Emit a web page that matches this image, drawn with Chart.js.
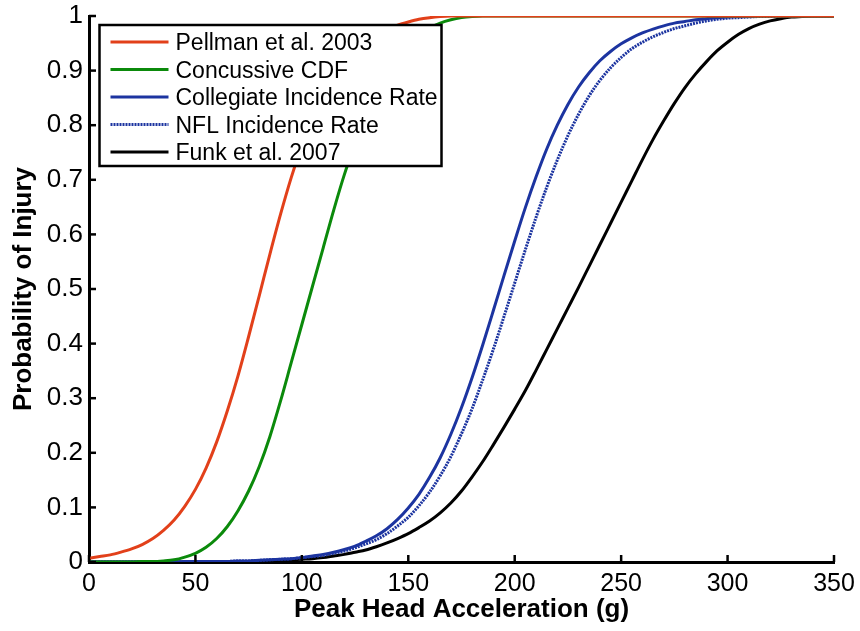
<!DOCTYPE html>
<html>
<head>
<meta charset="utf-8">
<script src="https://cdn.jsdelivr.net/npm/chart.js@4.4.1/dist/chart.umd.min.js"></script>
<style>
html,body{margin:0;padding:0;background:#fff;}
#wrap{width:860px;height:631px;position:relative;}
</style>
</head>
<body>
<div id="wrap"><canvas id="c" width="860" height="631"></canvas></div>
<script>
// ---------- DATA ----------
const accel = [0,5,10,15,20,25,30,35,40,45,50,55,60,65,70,75,80,85,90,95,100,105,110,115,120,125,130,135,140,145,150,155,160,165,170,175,180,185,190,195,200,205,210,215,220,225,230,235,240,245,250,255,260,265,270,275,280,285,290,295,300,305,310,315,320,325,330,335,340,345,350];

const pellman2003 = [0.007,0.010,0.013,0.018,0.024,0.032,0.043,0.058,0.077,0.102,0.133,0.172,0.220,0.277,0.341,0.413,0.488,0.564,0.637,0.704,0.763,0.814,0.855,0.889,0.916,0.937,0.953,0.965,0.975,0.983,0.989,0.994,0.997,0.999,1,1,1,1,1,1,1,1,1,1,1,1,1,1,1,1,1,1,1,1,1,1,1,1,1,1,1,1,1,1,1,1,1,1,1,1,1];

const concussiveCDF = [0,0,0,0,0,0.001,0.001,0.002,0.004,0.009,0.016,0.027,0.043,0.065,0.094,0.130,0.175,0.230,0.295,0.365,0.435,0.505,0.575,0.645,0.710,0.765,0.815,0.860,0.895,0.925,0.948,0.965,0.978,0.987,0.993,0.997,0.999,1,1,1,1,1,1,1,1,1,1,1,1,1,1,1,1,1,1,1,1,1,1,1,1,1,1,1,1,1,1,1,1,1,1];

const collegiateRate = [0,0,0,0,0,0,0,0,0,0.001,0.001,0.001,0.001,0.001,0.002,0.002,0.003,0.004,0.005,0.006,0.008,0.011,0.014,0.018,0.023,0.029,0.038,0.048,0.061,0.078,0.099,0.124,0.155,0.191,0.234,0.283,0.338,0.398,0.461,0.525,0.588,0.649,0.705,0.756,0.800,0.838,0.870,0.896,0.918,0.935,0.949,0.960,0.969,0.976,0.982,0.987,0.990,0.993,0.995,0.997,0.998,0.999,0.999,1,1,1,1,1,1,1,1];

const nflRate = [0,0,0,0,0,0,0,0,0,0,0.001,0.001,0.001,0.001,0.002,0.002,0.003,0.004,0.005,0.006,0.008,0.010,0.012,0.016,0.020,0.026,0.033,0.041,0.052,0.066,0.082,0.103,0.128,0.158,0.193,0.235,0.281,0.334,0.390,0.450,0.511,0.572,0.631,0.686,0.736,0.781,0.820,0.854,0.882,0.905,0.924,0.940,0.952,0.962,0.970,0.977,0.982,0.987,0.991,0.994,0.996,0.997,0.998,0.999,0.999,1,1,1,1,1,1];

const funk2007 = [0,0,0,0,0,0,0,0,0,0,0,0,0.001,0.001,0.001,0.001,0.002,0.002,0.003,0.004,0.005,0.006,0.008,0.011,0.014,0.018,0.022,0.028,0.035,0.043,0.052,0.063,0.075,0.090,0.108,0.130,0.156,0.184,0.215,0.247,0.280,0.314,0.351,0.389,0.427,0.465,0.503,0.542,0.581,0.620,0.659,0.698,0.737,0.774,0.808,0.840,0.869,0.894,0.916,0.936,0.952,0.966,0.977,0.985,0.991,0.995,0.998,0.999,1,1,1];

const seriesNames = ['Pellman et al. 2003','Concussive CDF','Collegiate Incidence Rate','NFL Incidence Rate','Funk et al. 2007'];

const xTickValues = [0,50,100,150,200,250,300,350];
const xTickLabels = ['0','50','100','150','200','250','300','350'];
const yTickValues = [0,0.1,0.2,0.3,0.4,0.5,0.6,0.7,0.8,0.9,1];
const yTickLabels = ['0','0.1','0.2','0.3','0.4','0.5','0.6','0.7','0.8','0.9','1'];

const xTitle = 'Peak Head Acceleration (g)';
const yTitle = 'Probability of Injury';

// ---------- CHART ----------
const FONT = "'Liberation Sans', Arial, Helvetica, sans-serif";
Chart.defaults.font.family = FONT;
Chart.defaults.color = '#000';

const toPts = (ys) => accel.map((x, i) => ({x: x, y: ys[i]}));

const styles = [
  {color: '#e2401a', dash: []},
  {color: '#0b8a0b', dash: []},
  {color: '#1c34a0', dash: []},
  {color: '#1c34a0', dash: [2, 1]},
  {color: '#000000', dash: []}
];
const seriesValues = [pellman2003, concussiveCDF, collegiateRate, nflRate, funk2007];

const datasets = seriesValues.map((vals, i) => ({
  label: seriesNames[i],
  data: toPts(vals),
  borderColor: styles[i].color,
  backgroundColor: styles[i].color,
  borderWidth: 3,
  borderDash: styles[i].dash,
  pointRadius: 0,
  tension: 0.3,
  cubicInterpolationMode: 'monotone',
  fill: false
}));

const inwardTicks = {
  id: 'inwardTicks',
  afterDatasetsDraw(chart) {
    const {ctx, chartArea: a, scales: {x, y}} = chart;
    ctx.save();
    ctx.strokeStyle = '#000';
    ctx.lineWidth = 2.5;
    ctx.setLineDash([]);
    xTickValues.forEach(v => {
      const px = x.getPixelForValue(v);
      ctx.beginPath(); ctx.moveTo(px, a.bottom); ctx.lineTo(px, a.bottom - 7); ctx.stroke();
    });
    yTickValues.forEach(v => {
      const py = y.getPixelForValue(v);
      ctx.beginPath(); ctx.moveTo(a.left, py); ctx.lineTo(a.left + 7, py); ctx.stroke();
    });
    ctx.restore();
  }
};

const insideLegend = {
  id: 'insideLegend',
  afterDraw(chart) {
    const {ctx, chartArea: a} = chart;
    const l = a.left + 10.5, t = a.top + 9, w = 342, h = 141;
    ctx.save();
    ctx.fillStyle = '#fff';
    ctx.fillRect(l, t, w, h);
    ctx.strokeStyle = '#000';
    ctx.lineWidth = 2.5;
    ctx.setLineDash([]);
    ctx.strokeRect(l, t, w, h);
    ctx.font = '23px ' + FONT;
    ctx.textBaseline = 'alphabetic';
    ctx.textAlign = 'left';
    chart.data.datasets.forEach((ds, i) => {
      const cy = t + 17 + i * 27.5;
      ctx.strokeStyle = ds.borderColor;
      ctx.lineWidth = ds.borderWidth;
      ctx.setLineDash(ds.borderDash || []);
      ctx.beginPath(); ctx.moveTo(l + 11, cy); ctx.lineTo(l + 69, cy); ctx.stroke();
      ctx.setLineDash([]);
      ctx.fillStyle = '#000';
      ctx.fillText(ds.label, l + 76, cy + 8.2);
    });
    ctx.restore();
  }
};

new Chart(document.getElementById('c'), {
  type: 'line',
  data: {datasets: datasets},
  options: {
    responsive: false,
    animation: false,
    devicePixelRatio: 1,
    layout: {padding: {top: 16, right: 26, left: 0, bottom: 0}},
    plugins: {legend: {display: false}, tooltip: {enabled: false}},
    scales: {
      x: {
        type: 'linear', position: 'bottom', min: 0, max: 350,
        grid: {display: false, drawTicks: false},
        border: {display: true, color: '#000', width: 3},
        afterBuildTicks: (s) => { s.ticks = xTickValues.map(v => ({value: v})); },
        afterFit: (s) => { s.height = 69; s.paddingLeft = 0; s.paddingRight = 0; },
        ticks: {
          color: '#000', padding: 7, maxRotation: 0, autoSkip: false,
          font: {size: 25, family: FONT},
          callback: (v, i) => xTickLabels[i]
        },
        title: {display: true, text: xTitle, color: '#000',
          font: {size: 26, weight: 'bold', family: FONT}, padding: {top: 0, bottom: 6}}
      },
      y: {
        type: 'linear', position: 'left', min: 0, max: 1,
        grid: {display: false, drawTicks: false},
        border: {display: true, color: '#000', width: 3},
        afterBuildTicks: (s) => { s.ticks = yTickValues.map(v => ({value: v})); },
        afterFit: (s) => { s.width = 89; s.paddingTop = 0; s.paddingBottom = 0; },
        ticks: {
          color: '#000', padding: 6, autoSkip: false,
          font: {size: 26, family: FONT},
          callback: (v, i) => yTickLabels[i]
        },
        title: {display: true, text: yTitle, color: '#000',
          font: {size: 26, weight: 'bold', family: FONT}, padding: {top: 8, bottom: 0}}
      }
    }
  },
  plugins: [inwardTicks, insideLegend]
});
</script>
</body>
</html>
